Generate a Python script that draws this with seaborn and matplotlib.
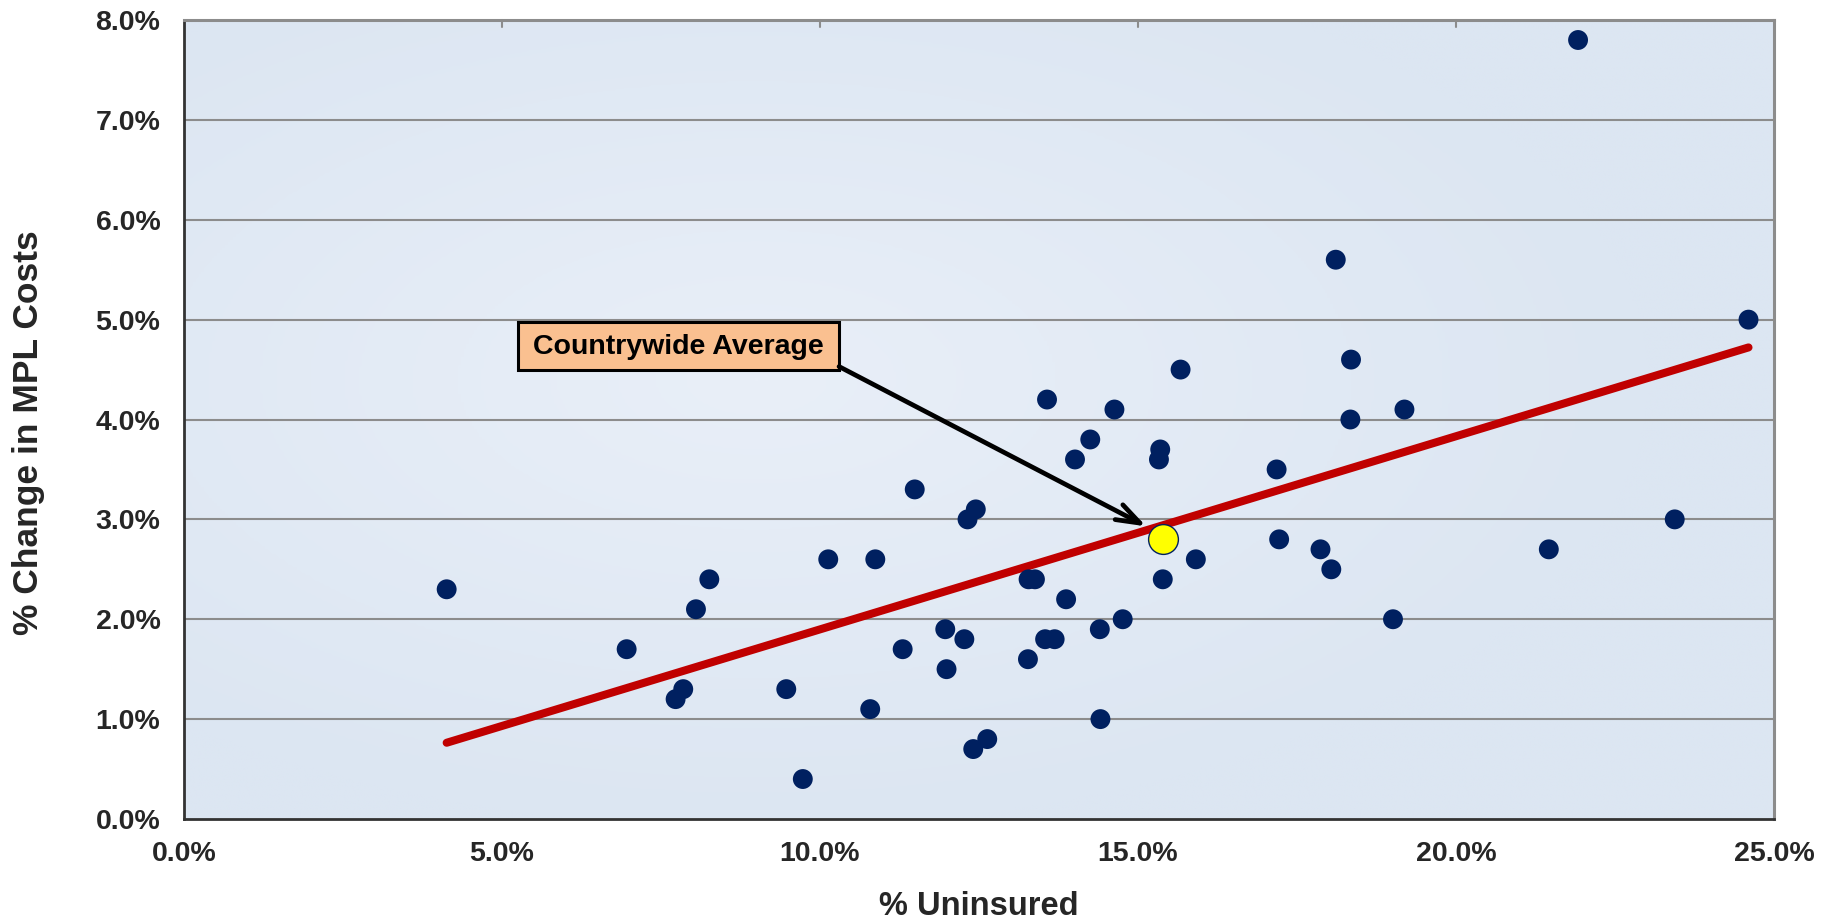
import numpy as np
import pandas as pd
import matplotlib
matplotlib.use("Agg")
import matplotlib.pyplot as plt
from matplotlib.patches import Rectangle
from matplotlib.colors import LinearSegmentedColormap
import seaborn as sns

# State-level data: % uninsured vs % change in MPL costs
uninsured = [4.13, 6.96, 7.73, 7.85, 8.05, 8.26, 9.47, 9.73, 10.13, 10.79,
             10.87, 11.30, 11.49, 11.97, 11.99, 12.27, 12.32, 12.41, 12.45, 12.63,
             13.27, 13.28, 13.38, 13.57, 13.54, 13.69, 13.87, 14.01, 14.25, 14.40,
             14.41, 14.63, 14.76, 15.33, 15.35, 15.39, 15.67, 15.91, 17.18, 17.22,
             17.87, 18.04, 18.11, 18.34, 18.35, 19.01, 19.19, 21.46, 21.92, 23.44,
             24.60]
mpl_change = [2.3, 1.7, 1.2, 1.3, 2.1, 2.4, 1.3, 0.4, 2.6, 1.1,
              2.6, 1.7, 3.3, 1.9, 1.5, 1.8, 3.0, 0.7, 3.1, 0.8,
              1.6, 2.4, 2.4, 4.2, 1.8, 1.8, 2.2, 3.6, 3.8, 1.9,
              1.0, 4.1, 2.0, 3.6, 3.7, 2.4, 4.5, 2.6, 3.5, 2.8,
              2.7, 2.5, 5.6, 4.0, 4.6, 2.0, 4.1, 2.7, 7.8, 3.0,
              5.0]

# Countrywide average
avg_uninsured = [15.40]
avg_mpl_change = [2.8]
avg_label = "Countrywide Average"

x_ticks = [0, 5, 10, 15, 20, 25]
y_ticks = [0, 1, 2, 3, 4, 5, 6, 7, 8]
x_title = "% Uninsured"
y_title = "% Change in MPL Costs"

df = pd.DataFrame({"uninsured": uninsured, "mpl_change": mpl_change})
avg_df = pd.DataFrame({"uninsured": avg_uninsured, "mpl_change": avg_mpl_change})

sns.set_style("white")
plt.rcParams["font.family"] = ["Liberation Sans", "DejaVu Sans"]
plt.rcParams["font.weight"] = "bold"

fig = plt.figure(figsize=(18.29, 9.23), dpi=100)
ax = fig.add_axes([0.1006, 0.1127, 0.8693, 0.8656])
ax.set_xlim(0, 25)
ax.set_ylim(0, 8)

# Soft radial gradient fill behind the plot
gy, gx = np.mgrid[0:1:300j, 0:1:600j]
dist = np.sqrt(((gx - 0.36) / 0.75) ** 2 + ((gy - 0.55) / 0.75) ** 2)
dist = np.clip(dist, 0, 1)
grad_cmap = LinearSegmentedColormap.from_list("bg", ["#E9EFF8", "#DCE6F2"])
ax.imshow(dist, extent=[0, 25, 0, 8], origin="lower", aspect="auto",
          cmap=grad_cmap, vmin=0, vmax=0.75, zorder=0, interpolation="bilinear")

# Horizontal grid lines
for yv in y_ticks[1:-1]:
    ax.axhline(yv, color="#8C8C8C", lw=1.5, zorder=1)

# Trend line over the state data
sns.regplot(data=df, x="uninsured", y="mpl_change", scatter=False, ci=None,
            truncate=True, ax=ax,
            line_kws=dict(color="#C00000", lw=5.8, solid_capstyle="round", zorder=3))

# State points
sns.scatterplot(data=df, x="uninsured", y="mpl_change", ax=ax, s=205,
                color="#002060", edgecolor="none", linewidth=0, zorder=4)

# Countrywide average point
sns.scatterplot(data=avg_df, x="uninsured", y="mpl_change", ax=ax, s=460,
                color="#FFFF00", edgecolor="#002060", linewidth=1.0, zorder=5)

# Callout box and arrow
box_x0, box_x1, box_y0, box_y1 = 5.25, 10.30, 4.50, 4.98
ax.add_patch(Rectangle((box_x0, box_y0), box_x1 - box_x0, box_y1 - box_y0,
                       facecolor="#FAC090", edgecolor="black", lw=2.2, zorder=6))
ax.text((box_x0 + box_x1) / 2, (box_y0 + box_y1) / 2 - 0.01, avg_label,
        ha="center", va="center", fontsize=20.5, fontweight="bold",
        color="black", zorder=7)
ax.annotate("", xy=(15.13, 2.93), xytext=(box_x1, box_y0 + 0.03),
            arrowprops=dict(arrowstyle="->,head_length=1.7,head_width=0.6",
                            color="black", lw=3.4, shrinkA=0, shrinkB=0),
            zorder=6)

# Axes styling
ax.set_xticks(x_ticks)
ax.set_yticks(y_ticks)
ax.set_xticklabels([f"{v:.1f}%" for v in x_ticks])
ax.set_yticklabels([f"{v:.1f}%" for v in y_ticks])
ax.tick_params(axis="both", which="both", length=0, labelsize=20.5)
ax.tick_params(axis="x", pad=16)
ax.tick_params(axis="y", pad=17)
for lbl in ax.get_xticklabels() + ax.get_yticklabels():
    lbl.set_fontweight("bold")

# Small inward ticks along the top edge
for xv in x_ticks[1:-1]:
    ax.plot([xv, xv], [8, 8 - 0.07], color="#8C8C8C", lw=1.5, zorder=2,
            clip_on=False)

ax.set_xlabel(x_title, fontsize=23.5, fontweight="bold")
ax.set_ylabel(y_title, fontsize=25.5, fontweight="bold")
ax.xaxis.label.set_va("center")
ax.yaxis.label.set_va("center")
ax.xaxis.set_label_coords(0.5, -0.109)
ax.yaxis.set_label_coords(-0.0975, 0.484)

ax.spines["left"].set_color("#333333")
ax.spines["bottom"].set_color("#333333")
ax.spines["left"].set_linewidth(2.0)
ax.spines["bottom"].set_linewidth(2.0)
ax.spines["top"].set_color("#8C8C8C")
ax.spines["right"].set_color("#8C8C8C")
ax.spines["top"].set_linewidth(2.2)
ax.spines["right"].set_linewidth(2.2)
for sp in ax.spines.values():
    sp.set_visible(True)
    sp.set_zorder(8)

fig.savefig("out.png", dpi=100, facecolor="white")
